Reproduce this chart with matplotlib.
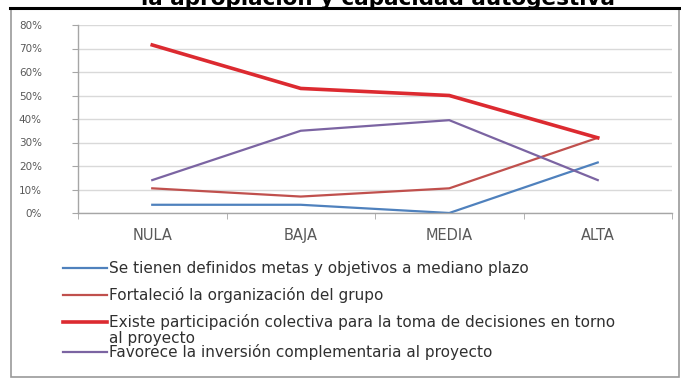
#!/usr/bin/env python3

import matplotlib

matplotlib.use("Agg")
import matplotlib.pyplot as plt
from matplotlib.lines import Line2D
from matplotlib.patches import Rectangle
from matplotlib.ticker import PercentFormatter, FixedLocator

categories = ["NULA", "BAJA", "MEDIA", "ALTA"]

metas = [3.5, 3.5, 0, 21.5]
fortalecio = [10.5, 7, 10.5, 32]
existe = [71.5, 53, 50, 32]
favorece = [14, 35, 39.5, 14]

labels = [
    "Se tienen definidos metas y objetivos a mediano plazo",
    "Fortaleció la organización del grupo",
    "Existe participación colectiva para la toma de decisiones en torno",
    "Favorece la inversión complementaria al proyecto",
]
wrapped_tail = "al proyecto"

title = "la apropiación y capacidad autogestiva"

W, H = 681, 379


def px(x, y):
    # pixel position from the top-left corner -> figure fraction
    return x / W, 1 - y / H


def main():
    fig = plt.figure(figsize=(W / 100, H / 100), dpi=100)
    fig.patch.set_facecolor("white")

    # outer chart frame and the rule under the title
    x0, y0 = px(11, 377)
    x1, y1 = px(679, 9)
    fig.patches.append(
        Rectangle((x0, y0), x1 - x0, y1 - y0, transform=fig.transFigure,
                  fill=False, edgecolor="#9a9a9a", linewidth=1.2)
    )
    lx0, ly = px(10, 8)
    lx1, _ = px(680, 8)
    fig.add_artist(Line2D([lx0, lx1], [ly, ly], transform=fig.transFigure,
                          color="black", linewidth=2.2))

    tx, ty = px(378, 5)
    fig.text(tx, ty, title, ha="center", va="baseline",
             fontsize=15.5, fontweight="bold", color="black")

    left, top = px(78, 25)
    right, bottom = px(672, 213)
    ax = fig.add_axes([left, bottom, right - left, top - bottom])

    x = range(len(categories))
    series = [
        (metas, "#4f81bd", 1.6),
        (fortalecio, "#c0504d", 1.6),
        (existe, "#dc2a30", 2.6),
        (favorece, "#7b64a2", 1.6),
    ]
    for values, color, lw in series:
        ax.plot(x, values, color=color, linewidth=lw, solid_joinstyle="miter")

    ax.set_xlim(-0.5, 3.5)
    ax.set_ylim(0, 80)
    ax.set_yticks(range(0, 81, 10))
    ax.yaxis.set_major_formatter(PercentFormatter(decimals=0))
    ax.set_xticks(list(x))
    ax.set_xticklabels(categories)
    ax.xaxis.set_minor_locator(FixedLocator([-0.5, 0.5, 1.5, 2.5, 3.5]))

    ax.grid(axis="y", color="#d9d9d9", linewidth=1.0)
    ax.set_axisbelow(True)
    for side in ("top", "right"):
        ax.spines[side].set_visible(False)
    for side in ("left", "bottom"):
        ax.spines[side].set_color("#a6a6a6")
        ax.spines[side].set_linewidth(1.0)

    ax.tick_params(axis="y", length=4, color="#a6a6a6", pad=22,
                   labelsize=7.5, labelcolor="#595959")
    ax.tick_params(axis="x", which="major", length=0, pad=11,
                   labelsize=10.5, labelcolor="#595959")
    ax.tick_params(axis="x", which="minor", length=4, color="#a6a6a6")

    # legend below the plot, one row per series
    rows = [268, 295, 322, 352]
    for (values, color, lw), label, row in zip(series, labels, rows):
        hx0, hy = px(63, row)
        hx1, _ = px(107, row)
        fig.add_artist(Line2D([hx0, hx1], [hy, hy], transform=fig.transFigure,
                              color=color, linewidth=lw))
        fig.text(px(109, row)[0], hy, label, ha="left", va="center",
                 fontsize=11, color="#303030")
    fig.text(px(109, 338)[0], px(109, 338)[1], wrapped_tail, ha="left",
             va="center", fontsize=11, color="#303030")

    fig.savefig("out.png", dpi=100, facecolor="white")


if __name__ == "__main__":
    main()
